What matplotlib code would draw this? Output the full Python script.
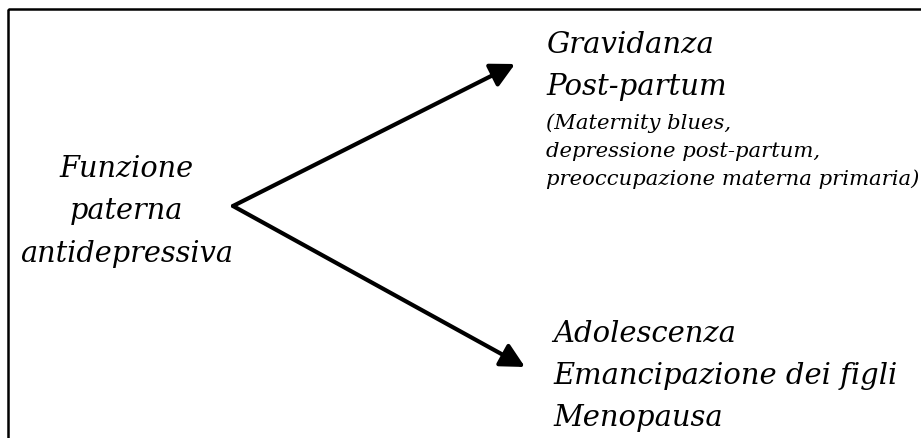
import matplotlib.pyplot as plt
from matplotlib.patches import Rectangle

# testo del diagramma
left_lines = ["Funzione", "paterna", "antidepressiva"]
top_lines = ["Gravidanza", "Post-partum"]
top_note = ["(Maternity blues,", "depressione post-partum,", "preoccupazione materna primaria)"]
bottom_lines = ["Adolescenza", "Emancipazione dei figli", "Menopausa"]

# nodo di partenza e punte delle frecce (coordinate pixel)
origin = (233, 207)
tips = [(515, 65), (525, 368)]

fig = plt.figure(figsize=(9.21, 4.39), dpi=100)
ax = fig.add_axes([0, 0, 1, 1])
ax.set_xlim(0, 921)
ax.set_ylim(439, 0)
ax.axis("off")

# cornice (tagliata a destra e in basso)
ax.add_patch(Rectangle((7.5, 10), 930, 450, fill=False, lw=1.8, ec="black"))

font = dict(family="DejaVu Serif", style="italic", color="black")

for i, s in enumerate(left_lines):
    ax.text(126.5, 177 + i * 42.5, s, ha="center", va="baseline", fontsize=20.7, **font)

for i, s in enumerate(top_lines):
    ax.text(546, 53 + i * 42, s, ha="left", va="baseline", fontsize=21, **font)

for i, s in enumerate(top_note):
    ax.text(546, 129 + i * 28, s, ha="left", va="baseline", fontsize=15.2, **font)

for i, s in enumerate(bottom_lines):
    ax.text(553, 342 + i * 42, s, ha="left", va="baseline", fontsize=20.9, **font)

for tip in tips:
    ax.annotate("", xy=tip, xytext=origin,
                arrowprops=dict(arrowstyle="-|>,head_length=1.45,head_width=0.75",
                                lw=3, color="black", mutation_scale=10,
                                shrinkA=0, shrinkB=0))

fig.savefig("out.png", dpi=100)
